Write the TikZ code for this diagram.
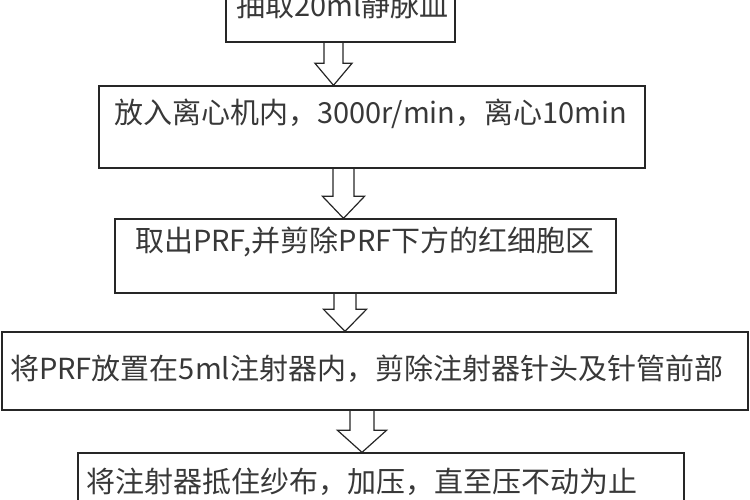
\documentclass[tikz,border=0pt]{standalone}
\usepackage{fontspec}
\newfontfamily\cjk{Noto Sans CJK SC}
\usetikzlibrary{calc}

\begin{document}
\begin{tikzpicture}[
  x=1pt, y=1pt,
  box/.style={draw=black!85,line width=1.3pt,inner sep=0pt},
  txt/.style={anchor=west,inner sep=0pt,text=black!78,font=\cjk\fontsize{29}{32}\selectfont},
  hollow/.style={draw=black!85,line width=1.2pt,line join=miter} % <-- ontto nuoli
]
\clip (0,0) rectangle (750,500);
\useasboundingbox (0,0) rectangle (750,500);

\node[box,minimum width=229pt,minimum height=77pt] (b1) at (340.5,496.5) {};
\node[box,minimum width=546pt,minimum height=82pt] (b2) at (372,373) {};
\node[box,minimum width=501pt,minimum height=74pt] (b3) at (365.5,244) {};
\node[box,minimum width=746pt,minimum height=78pt] (b4) at (375,129) {};
\node[box,minimum width=606pt,minimum height=77pt] (b5) at (381,8.5) {};

\node[txt] (t1) at (236,494) {抽取20ml静脉血};
\node[txt] (t2) at (114,386) {放入离心机内，3000r/min，离心10min};
\node[txt] (t3) at (135,258) {取出PRF,并剪除PRF下方的红细胞区};
\node[txt] (t4) at (10,131) {将PRF放置在5ml注射器内，剪除注射器针头及针管前部};
\node[txt] (t5) at (86,18) {将注射器抵住纱布，加压，直至压不动为止};

\foreach \from/\to/\ax/\w/\h in {b1/b2/333.5/9.5/18.5, b2/b3/343.5/10.5/21,
                                 b3/b4/345/11/21.5, b4/b5/362/12/24.5}
  \draw[hollow] let \p1=(\ax,0 |- \from.south), \p2=(\ax,0 |- \to.north) in
    (\x1-\w,\y1) -- (\x1-\w,\y2+22) -- (\x1-\h,\y2+22) -- (\x2,\y2)
    -- (\x1+\h,\y2+22) -- (\x1+\w,\y2+22) -- (\x1+\w,\y1);
\end{tikzpicture}
\end{document}
